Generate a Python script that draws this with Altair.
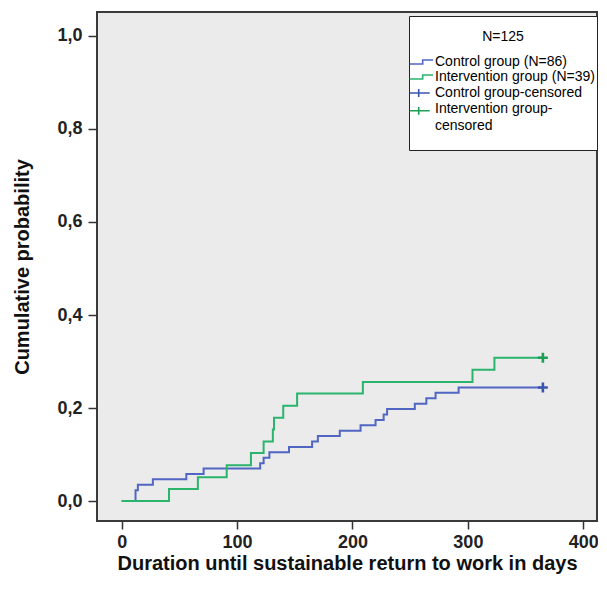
import altair as alt
import pandas as pd

# ---- data ----
control_days = [0, 12, 14, 27, 56, 71, 120, 123, 128, 145, 165, 170, 189, 207, 220, 227, 230, 254, 264, 272, 292, 365]
control_prob = [0, .023, .035, .047, .058, .070, .081, .093, .105, .116, .128, .140, .151, .163, .174, .186, .198, .209, .221, .233, .244, .244]

interv_days = [0, 41, 66, 91, 112, 123, 131, 132, 140, 152, 209, 304, 323, 365]
interv_prob = [0, .026, .051, .077, .103, .128, .154, .179, .205, .231, .256, .282, .308, .308]

censor_series = ["Control group-censored", "Intervention group-censored"]
censor_days = [365, 365]
censor_prob = [.244, .308]

# legend entries (the last label wraps onto the "censored" line; the final entry is spacing)
series_names = ["Control group (N=86)", "Intervention group (N=39)",
                "Control group-censored", "Intervention group-censored", "censored", " "]
series_colors = ["#5066c2", "#2bb46c", "#3a55b0", "#1f9e55", "#ffffff", "#ffffff"]
legend_shapes = ["M-1.38,0.33H0.78V-0.33H2.5",
                 "M-1.38,0.33H0.78V-0.33H2.5",
                 "M-1.38,0H1.95M0.12,-0.65V0.65",
                 "M-1.38,0.3H1.95M0.12,-0.35V0.95",
                 "M0,0L0,0",
                 "M0,0L0,0"]

x_ticks = [0, 100, 200, 300, 400]
y_ticks = [0, 0.2, 0.4, 0.6, 0.8, 1.0]

# ---- tables ----
lines = pd.concat([
    pd.DataFrame({"series": series_names[0], "day": control_days, "prob": control_prob}),
    pd.DataFrame({"series": series_names[1], "day": interv_days, "prob": interv_prob}),
])
censored = pd.DataFrame({"series": censor_series, "day": censor_days, "prob": censor_prob})
legend_df = pd.DataFrame({"series": series_names, "day": [0] * len(series_names),
                          "prob": [0] * len(series_names)})

xscale = alt.Scale(domain=[-21.4, 411.9], nice=False, zero=False)
yscale = alt.Scale(domain=[-0.043, 1.0516], nice=False, zero=False)
cscale = alt.Scale(domain=series_names, range=series_colors)

x_enc = alt.X("day:Q", scale=xscale,
              axis=alt.Axis(values=x_ticks, title="Duration until sustainable return to work in days",
                            titlePadding=2, labelPadding=4, tickSize=8, labelFlush=False))
y_enc = alt.Y("prob:Q", scale=yscale,
              axis=alt.Axis(values=y_ticks, title="Cumulative probability",
                            labelExpr="replace(format(datum.value, '.1f'), '.', ',')",
                            titlePadding=24, labelPadding=6, tickSize=9, labelFlush=False))

legend = alt.Legend(
    title=["", "N=125"], titleFont="Liberation Sans", titleFontSize=14, titleFontWeight="normal",
    titleColor="black", titleAnchor="middle", titleAlign="center", titleLineHeight=12,
    titlePadding=11,
    labelFont="Liberation Sans", labelFontSize=14, labelColor="black", labelLimit=400,
    labelOffset=10,
    labelExpr="datum.label == 'Intervention group-censored' ? 'Intervention group-' : datum.label",
    symbolSize=144, symbolStrokeWidth=1.6, symbolOpacity=1, symbolFillColor="transparent",
    rowPadding=1, padding=2,
    strokeColor="#222222", fillColor="white",
    orient="none", legendX=312, legendY=4,
)

# legend layer first so its legend settings win when layers are merged
legend_layer = alt.Chart(legend_df).mark_point(filled=False, opacity=0, size=144).encode(
    x=x_enc, y=y_enc,
    color=alt.Color("series:N", scale=cscale, legend=legend),
    shape=alt.Shape("series:N", scale=alt.Scale(domain=series_names, range=legend_shapes), legend=legend),
)

line_layer = alt.Chart(lines).mark_line(interpolate="step-after", strokeWidth=2).encode(
    x="day:Q", y="prob:Q",
    color=alt.Color("series:N", scale=cscale, legend=None),
    order="day:Q",
)

censor_layer = alt.Chart(censored).mark_point(
    shape="M-1,0H1M0,-1V1", size=100, filled=False, strokeWidth=2.6, opacity=1
).encode(
    x="day:Q", y="prob:Q",
    color=alt.Color("series:N", scale=cscale, legend=None),
)

chart = alt.layer(legend_layer, line_layer, censor_layer).properties(
    width=500, height=509,
    padding={"left": 89, "top": 4, "right": 1, "bottom": 56},
    autosize=alt.AutoSizeParams(type="none"),
).configure_view(
    fill="#ebebec", stroke="#3a3a3a", strokeWidth=2,
).configure_axis(
    domain=False, grid=False,
    tickColor="#333333", tickWidth=1.5,
    labelFont="Liberation Sans", labelFontSize=18, labelFontWeight="bold", labelColor="#222222",
    titleFont="Liberation Sans", titleFontSize=20, titleFontWeight="bold", titleColor="#111111",
)

chart.save("out.html", embed_options={"renderer": "svg", "actions": False})
